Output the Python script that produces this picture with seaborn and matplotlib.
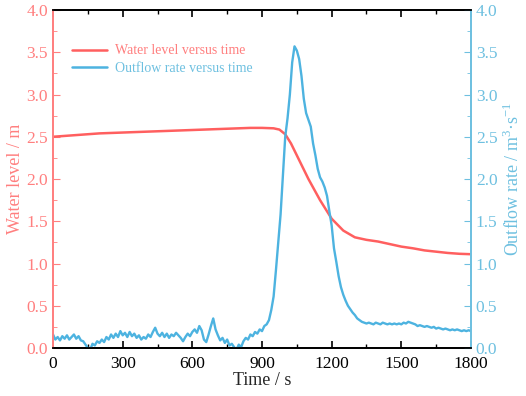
import numpy as np
import pandas as pd
import matplotlib
matplotlib.use('Agg')
import matplotlib.pyplot as plt
import seaborn as sns
from matplotlib.ticker import MultipleLocator
from matplotlib.lines import Line2D

# water level (m) vs time (s)
level_time = [0, 50, 100, 150, 200, 250, 300, 350, 400, 450, 500, 550, 600, 650, 700,
              750, 800, 850, 900, 950, 975, 1000, 1025, 1050, 1100, 1150, 1200, 1250,
              1300, 1350, 1400, 1450, 1500, 1550, 1600, 1650, 1700, 1750, 1800]
water_level = [2.50, 2.51, 2.52, 2.53, 2.54, 2.545, 2.55, 2.555, 2.56, 2.565, 2.57, 2.575,
               2.58, 2.585, 2.59, 2.595, 2.60, 2.605, 2.605, 2.60, 2.585, 2.53, 2.42, 2.28,
               2.00, 1.75, 1.53, 1.39, 1.31, 1.28, 1.26, 1.23, 1.20, 1.18, 1.155, 1.14,
               1.125, 1.115, 1.11]

# outflow rate (m3/s), every 10 s from 0 to 1800
flow_time = list(range(0, 1810, 10))
outflow = [0.16, 0.10, 0.13, 0.09, 0.14, 0.11, 0.15, 0.10, 0.13, 0.16,
           0.11, 0.14, 0.09, 0.08, 0.04, 0.00, -0.02, 0.05, 0.03, 0.08,
           0.06, 0.10, 0.07, 0.13, 0.10, 0.16, 0.12, 0.17, 0.13, 0.20,
           0.15, 0.18, 0.13, 0.19, 0.14, 0.17, 0.12, 0.15, 0.10, 0.13,
           0.11, 0.16, 0.13, 0.19, 0.24, 0.17, 0.14, 0.18, 0.13, 0.17,
           0.12, 0.16, 0.14, 0.18, 0.15, 0.12, 0.08, 0.13, 0.17, 0.14,
           0.19, 0.22, 0.18, 0.26, 0.21, 0.10, 0.07, 0.16, 0.26, 0.35,
           0.22, 0.15, 0.09, 0.12, 0.06, 0.10, 0.03, 0.05, 0.01, -0.02,
           0.04, 0.01, 0.08, 0.12, 0.10, 0.16, 0.14, 0.19, 0.17, 0.22,
           0.20, 0.26, 0.28, 0.33, 0.45, 0.61, 0.92, 1.25, 1.58, 2.05,
           2.50, 2.72, 3.00, 3.38, 3.57, 3.52, 3.42, 3.22, 2.95, 2.78,
           2.70, 2.62, 2.42, 2.28, 2.12, 2.02, 1.97, 1.90, 1.80, 1.62,
           1.45, 1.18, 1.02, 0.85, 0.72, 0.63, 0.56, 0.50, 0.46, 0.42,
           0.39, 0.35, 0.33, 0.31, 0.30, 0.29, 0.30, 0.29, 0.28, 0.30,
           0.29, 0.28, 0.30, 0.29, 0.28, 0.29, 0.28, 0.29, 0.28, 0.29,
           0.28, 0.30, 0.29, 0.31, 0.30, 0.29, 0.28, 0.26, 0.27, 0.26,
           0.25, 0.26, 0.25, 0.24, 0.25, 0.23, 0.24, 0.23, 0.22, 0.23,
           0.22, 0.21, 0.22, 0.21, 0.22, 0.21, 0.20, 0.21, 0.20, 0.21,
           0.20]

red_line = '#ff5f5f'
red_text = '#ff7f7f'
blue_line = '#4db3e0'
blue_text = '#6ec0e0'

sns.set_style('ticks')
plt.rcParams['font.family'] = ['Liberation Serif', 'DejaVu Serif']
plt.rcParams['mathtext.fontset'] = 'custom'
plt.rcParams['mathtext.rm'] = 'Liberation Serif'

fig, ax1 = plt.subplots(figsize=(5.26, 3.96), dpi=100)
fig.subplots_adjust(left=0.1008, right=0.8954, bottom=0.1212, top=0.9747)
ax2 = ax1.twinx()

sns.lineplot(x=level_time, y=water_level, ax=ax1, color=red_line, lw=1.8)
sns.lineplot(x=flow_time, y=outflow, ax=ax2, color=blue_line, lw=1.7)

ax1.set_xlim(0, 1800)
ax1.set_ylim(0, 4)
ax2.set_ylim(0, 4)
ax1.xaxis.set_major_locator(MultipleLocator(300))
ax1.xaxis.set_minor_locator(MultipleLocator(150))
for a in (ax1, ax2):
    a.yaxis.set_major_locator(MultipleLocator(0.5))
    a.yaxis.set_minor_locator(MultipleLocator(0.25))
ax1.yaxis.set_major_formatter(plt.FormatStrFormatter('%.1f'))
ax2.yaxis.set_major_formatter(plt.FormatStrFormatter('%.1f'))

ax1.tick_params(axis='x', which='both', direction='in', top=True, colors='black',
                labelsize=12.5, pad=6)
ax1.tick_params(axis='x', which='major', length=5, width=1.2)
ax1.tick_params(axis='x', which='minor', length=3, width=1)
ax1.tick_params(axis='y', which='both', direction='in', colors=red_text, labelsize=12.5,
                labelcolor=red_text)
ax1.tick_params(axis='y', which='major', length=5)
ax1.tick_params(axis='y', which='minor', length=3)
ax2.tick_params(axis='y', which='both', direction='in', colors=blue_text, labelsize=12.5,
                labelcolor=blue_text)
ax2.tick_params(axis='y', which='major', length=5)
ax2.tick_params(axis='y', which='minor', length=3)

for a in (ax1, ax2):
    a.spines['left'].set_color(red_text)
    a.spines['right'].set_color(blue_text)
    a.spines['top'].set_color('black')
    a.spines['bottom'].set_color('black')
    for s in a.spines.values():
        s.set_linewidth(1.3)

ax1.set_xlabel('Time / s', fontsize=13, labelpad=0)
ax1.set_ylabel('Water level / m', fontsize=13, color=red_text, labelpad=2)
ax2.set_ylabel(r'Outflow rate / m$^{3}$·s$^{-1}$', fontsize=13, color=blue_text, labelpad=4)

handles = [Line2D([], [], color=red_line, lw=1.8), Line2D([], [], color=blue_line, lw=1.8)]
leg = ax2.legend(handles, ['Water level versus time', 'Outflow rate versus time'],
                 loc='upper left', bbox_to_anchor=(0.015, 0.935), frameon=False,
                 fontsize=10, handlelength=2.5, handletextpad=0.6, labelspacing=0.35)
for txt, c in zip(leg.get_texts(), [red_text, blue_text]):
    txt.set_color(c)

plt.savefig('out.png', dpi=100)
